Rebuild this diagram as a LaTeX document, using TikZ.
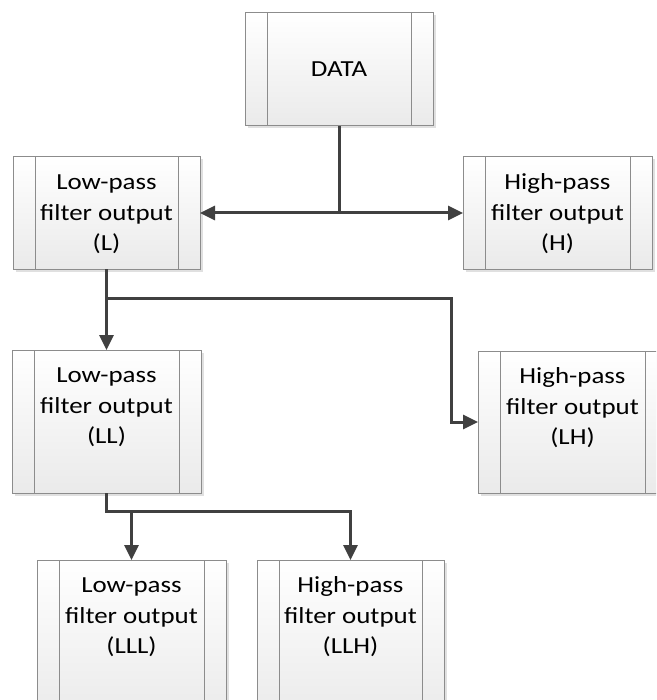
\documentclass[tikz,border=0pt]{standalone}
\usepackage{fontspec}
\setmainfont{Carlito}
\usetikzlibrary{arrows.meta,shadows}
\definecolor{linec}{HTML}{404040}
\definecolor{boxline}{HTML}{8C8C8C}
\definecolor{boxbot}{HTML}{EAEAEA}
\newcommand{\boxtext}[1]{\scalebox{1.17}[1]{\begin{tabular}{@{}c@{}}#1\end{tabular}}}
\tikzset{
  procbox/.style={rectangle, draw=boxline, line width=1pt, inner sep=0pt, outer sep=0pt,
    top color=white, bottom color=boxbot, anchor=north west,
    drop shadow={shadow xshift=2.5pt, shadow yshift=-2.5pt, fill=black, opacity=0.12},
    path picture={\draw[boxline, line width=1pt]
      ([xshift=22pt]path picture bounding box.north west) -- ([xshift=22pt]path picture bounding box.south west)
      ([xshift=-22pt]path picture bounding box.north east) -- ([xshift=-22pt]path picture bounding box.south east);}},
  txt/.style={font=\fontsize{23}{30.5}\selectfont, text=black, inner sep=0pt},
  conn/.style={draw=linec, line width=3pt},
  arr/.style={conn, -{Triangle[length=15pt,width=14pt]}}
}
\begin{document}
\begin{tikzpicture}[x=1pt,y=-1pt]
\useasboundingbox (0,0) rectangle (656,700);
\fill[white] (0,0) rectangle (656,700);
\clip (0,0) rectangle (656,700);
% boxes
\node[procbox, minimum width=188pt, minimum height=113pt] (data) at (245,13) {};
\node[procbox, minimum width=187pt, minimum height=112pt] (l) at (13,157) {};
\node[procbox, minimum width=189pt, minimum height=112pt] (h) at (463,157) {};
\node[procbox, minimum width=189pt, minimum height=143pt] (ll) at (12,350) {};
\node[procbox, minimum width=189pt, minimum height=142pt] (lh) at (478,351) {};
\node[procbox, minimum width=189pt, minimum height=160pt] (lll) at (37,560) {};
\node[procbox, minimum width=187pt, minimum height=160pt] (llh) at (257,560) {};
% texts
\node[txt] (tdata) at ([yshift=-57pt]data.north) {\boxtext{DATA}};
\node[txt] (tl) at ([yshift=-57pt]l.north) {\boxtext{Low-pass\\filter output\\(L)}};
\node[txt] (th) at ([yshift=-57pt]h.north) {\boxtext{High-pass\\filter output\\(H)}};
\node[txt] (tll) at ([yshift=-57pt]ll.north) {\boxtext{Low-pass\\filter output\\(LL)}};
\node[txt] (tlh) at ([yshift=-57pt]lh.north) {\boxtext{High-pass\\filter output\\(LH)}};
\node[txt] (tlll) at ([yshift=-57pt]lll.north) {\boxtext{Low-pass\\filter output\\(LLL)}};
\node[txt] (tllh) at ([yshift=-57pt]llh.north) {\boxtext{High-pass\\filter output\\(LLH)}};
% connectors
\coordinate (j1) at (data.south |- l.east);
\draw[conn] (data.south) -- (j1);
\draw[arr] (j1) -- (l.east);
\draw[arr] (j1) -- (h.west);
\coordinate (j2) at ([yshift=-29pt]l.south);
\draw[arr] (l.south) -- (ll.north);
\draw[arr] (j2) -| ([xshift=-27pt]lh.west) -- (lh.west);
\coordinate (j3) at ([yshift=-18pt]ll.south);
\draw[arr] (ll.south) -- (j3) -| (llh.north);
\draw[arr] (j3 -| lll.north) -- (lll.north);
\end{tikzpicture}
\end{document}
